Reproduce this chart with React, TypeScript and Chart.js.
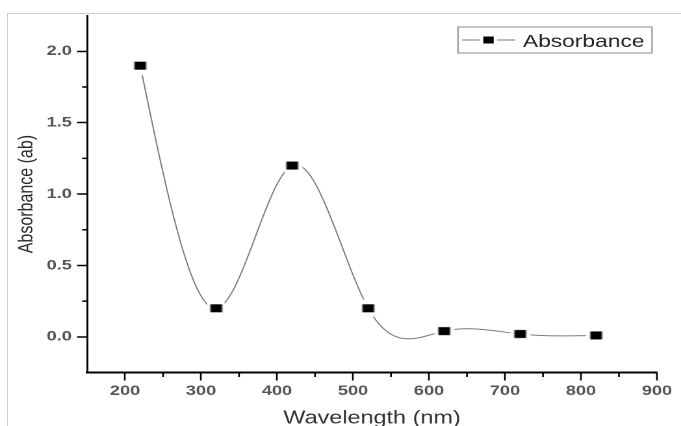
import React, { useEffect, useRef } from 'react';
import { Chart, registerables } from 'chart.js';

Chart.register(...registerables);

// ---- data ----
const wavelengths = [220, 320, 420, 520, 620, 720, 820];
const absorbance = [1.9, 0.2, 1.2, 0.2, 0.04, 0.02, 0.01];
const xTicks = [200, 300, 400, 500, 600, 700, 800, 900];
const yTicks = [0.0, 0.5, 1.0, 1.5, 2.0];
const xMinorTicks = [250, 350, 450, 550, 650, 750, 850];
const yMinorTicks = [0.25, 0.75, 1.25, 1.75];
const seriesName = 'Absorbance';
const xTitle = 'Wavelength (nm)';
const yTitle = 'Absorbance (ab)';

// ---- layout (canvas is drawn narrow and stretched horizontally) ----
const W = 524;
const H = 426;
const SX = 681 / W;
const FONT = "'Liberation Sans', Arial, sans-serif";

function makeMarker(): HTMLCanvasElement {
  const c = document.createElement('canvas');
  c.width = 16;
  c.height = 20;
  const g = c.getContext('2d')!;
  g.fillStyle = '#ffffff';
  g.beginPath();
  g.ellipse(8, 10, 7.8, 10, 0, 0, Math.PI * 2);
  g.fill();
  g.fillStyle = '#000000';
  g.fillRect(3.5, 6, 9, 8);
  return c;
}

// natural cubic spline through the dataset points, written into the
// bezier control points of the library's line element
const splinePlugin = {
  id: 'naturalSpline',
  beforeDatasetDraw(chart: any, args: any) {
    const meta = chart.getDatasetMeta(args.index);
    const line = meta.dataset;
    const pts = meta.data;
    if (!line || !pts || pts.length < 3) return;
    line.updateControlPoints(chart.chartArea, 'x');
    const data = chart.data.datasets[args.index].data as { x: number; y: number }[];
    const n = data.length;
    const xs = data.map((d) => d.x);
    const ys = data.map((d) => d.y);
    const h: number[] = [];
    for (let i = 0; i < n - 1; i++) h.push(xs[i + 1] - xs[i]);
    const M = new Array(n).fill(0);
    const a: number[] = [], b: number[] = [], c: number[] = [], r: number[] = [];
    for (let i = 1; i < n - 1; i++) {
      a.push(h[i - 1]);
      b.push(2 * (h[i - 1] + h[i]));
      c.push(h[i]);
      r.push(6 * ((ys[i + 1] - ys[i]) / h[i] - (ys[i] - ys[i - 1]) / h[i - 1]));
    }
    const m = b.length;
    const cp: number[] = new Array(m).fill(0);
    const dp: number[] = new Array(m).fill(0);
    for (let i = 0; i < m; i++) {
      const den = b[i] - (i > 0 ? a[i] * cp[i - 1] : 0);
      cp[i] = c[i] / den;
      dp[i] = (r[i] - (i > 0 ? a[i] * dp[i - 1] : 0)) / den;
    }
    for (let i = m - 1; i >= 0; i--) {
      M[i + 1] = dp[i] - (i < m - 1 ? cp[i] * M[i + 2] : 0);
    }
    const d: number[] = [];
    for (let i = 0; i < n - 1; i++) {
      d.push((ys[i + 1] - ys[i]) / h[i] - (h[i] * (2 * M[i] + M[i + 1])) / 6);
    }
    d.push((ys[n - 1] - ys[n - 2]) / h[n - 2] + (h[n - 2] * (M[n - 2] + 2 * M[n - 1])) / 6);
    const sx = chart.scales.x;
    const sy = chart.scales.y;
    for (let i = 0; i < n - 1; i++) {
      const hh = h[i] / 3;
      pts[i].cp2x = sx.getPixelForValue(xs[i] + hh);
      pts[i].cp2y = sy.getPixelForValue(ys[i] + d[i] * hh);
      pts[i + 1].cp1x = sx.getPixelForValue(xs[i + 1] - hh);
      pts[i + 1].cp1y = sy.getPixelForValue(ys[i + 1] - d[i + 1] * hh);
    }
  },
};

const minorTicksPlugin = {
  id: 'minorTicks',
  afterDraw(chart: any) {
    const { ctx, chartArea } = chart;
    const sx = chart.scales.x;
    const sy = chart.scales.y;
    ctx.save();
    ctx.strokeStyle = '#000';
    ctx.lineWidth = 1.5;
    ctx.beginPath();
    for (const v of yMinorTicks) {
      const py = sy.getPixelForValue(v);
      ctx.moveTo(chartArea.left - 3.8, py);
      ctx.lineTo(chartArea.left, py);
    }
    ctx.stroke();
    ctx.lineWidth = 1.3;
    ctx.beginPath();
    for (const v of xMinorTicks) {
      const px = sx.getPixelForValue(v);
      ctx.moveTo(px, chartArea.bottom);
      ctx.lineTo(px, chartArea.bottom + 4.5);
    }
    ctx.stroke();
    ctx.restore();
  },
};

const legendPlugin = {
  id: 'originLegend',
  afterDraw(chart: any) {
    const { ctx, chartArea } = chart;
    const right = chartArea.right - 3.8;
    const left = right - 149.3;
    const top = chartArea.top + 11.3;
    const bottom = top + 26;
    const cy = (top + bottom) / 2;
    ctx.save();
    ctx.strokeStyle = '#8a8a8a';
    ctx.lineWidth = 1;
    ctx.strokeRect(left, top, right - left, bottom - top);
    ctx.strokeStyle = '#777';
    ctx.beginPath();
    ctx.moveTo(left + 3, cy);
    ctx.lineTo(left + 17, cy);
    ctx.moveTo(left + 30, cy);
    ctx.lineTo(left + 44, cy);
    ctx.stroke();
    ctx.fillStyle = '#000';
    ctx.fillRect(left + 19.5, cy - 3.5, 8, 7);
    ctx.fillStyle = '#222';
    ctx.font = `17.5px ${FONT}`;
    ctx.textBaseline = 'alphabetic';
    ctx.textAlign = 'left';
    ctx.fillText(seriesName, left + 50, top + 20);
    ctx.restore();
  },
};

export default function App() {
  const ref = useRef<HTMLCanvasElement>(null);

  useEffect(() => {
    const canvas = ref.current;
    if (!canvas) return;
    const marker = makeMarker();
    const chart = new Chart(canvas, {
      type: 'line',
      data: {
        datasets: [
          {
            label: seriesName,
            data: wavelengths.map((x, i) => ({ x, y: absorbance[i] })),
            borderColor: '#7a7a7a',
            borderWidth: 1,
            tension: 0.4,
            fill: false,
            pointStyle: marker as any,
            pointRadius: 6,
            pointHoverRadius: 6,
            clip: false as any,
          },
        ],
      },
      options: {
        responsive: false,
        animation: false,
        devicePixelRatio: 2,
        events: [],
        layout: { padding: { top: 15.7, right: 18.5, left: 0, bottom: 0 } },
        plugins: { legend: { display: false }, tooltip: { enabled: false } },
        scales: {
          x: {
            type: 'linear',
            min: 150,
            max: 900,
            afterBuildTicks: (s: any) => {
              s.ticks = xTicks.map((value) => ({ value }));
            },
            afterFit: (s: any) => {
              s.height = 53.5;
            },
            grid: {
              drawOnChartArea: false,
              drawTicks: true,
              tickLength: 8,
              tickColor: '#000',
              tickWidth: 1.3,
            },
            border: { display: true, color: '#000', width: 2 },
            ticks: {
              autoSkip: false,
              maxRotation: 0,
              padding: 2,
              color: '#555',
              font: { family: FONT, size: 14, weight: 'bold' },
              callback: (v: any) => String(v),
            },
            title: {
              display: true,
              text: xTitle,
              color: '#333',
              font: { family: FONT, size: 18, lineHeight: 1 },
              padding: { top: 0, bottom: -1.5 },
            },
          },
          y: {
            type: 'linear',
            min: -0.25,
            max: 2.25,
            afterBuildTicks: (s: any) => {
              s.ticks = yTicks.map((value) => ({ value }));
            },
            afterFit: (s: any) => {
              s.width = 67;
            },
            grid: {
              drawOnChartArea: false,
              drawTicks: true,
              tickLength: 7.7,
              tickColor: '#000',
              tickWidth: 1.5,
            },
            border: { display: true, color: '#000', width: 1.5 },
            ticks: {
              padding: 4,
              color: '#555',
              font: { family: FONT, size: 14, weight: 'bold' },
              callback: (v: any) => Number(v).toFixed(1),
            },
            title: {
              display: true,
              text: yTitle,
              color: '#2a2a2a',
              font: { family: FONT, size: 16, lineHeight: 1.2 },
              padding: { top: 11, bottom: 0 },
            },
          },
        },
      } as any,
      plugins: [splinePlugin, minorTicksPlugin, legendPlugin],
    });
    return () => chart.destroy();
  }, []);

  return (
    <div
      style={{
        position: 'absolute',
        left: 0,
        top: 0,
        width: 681,
        height: 426,
        overflow: 'hidden',
        background: '#fff',
      }}
    >
      <div
        style={{
          position: 'absolute',
          left: 7,
          top: 13,
          right: 0,
          bottom: 0,
          borderTop: '1px solid #cdcdcd',
          borderLeft: '1px solid #cdcdcd',
        }}
      />
      <div
        style={{
          position: 'absolute',
          left: 0,
          top: 0,
          width: W,
          height: H,
          transform: `scaleX(${SX})`,
          transformOrigin: '0 0',
        }}
      >
        <canvas ref={ref} width={W} height={H} style={{ display: 'block', width: W, height: H }} />
      </div>
    </div>
  );
}
